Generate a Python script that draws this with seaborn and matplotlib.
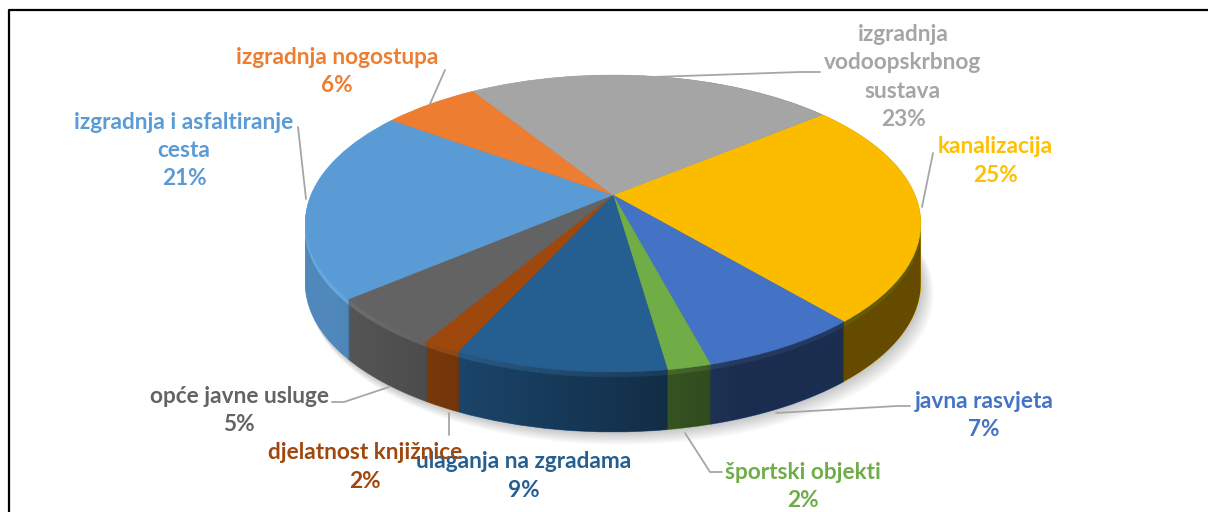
import numpy as np
import seaborn as sns
import matplotlib
matplotlib.use('Agg')
import matplotlib.pyplot as plt
from matplotlib.patches import Circle
from matplotlib.path import Path
from matplotlib.transforms import Transform

categories = ['kanalizacija', 'javna rasvjeta', 'športski objekti', 'ulaganja na zgradama',
              'djelatnost knjižnice', 'opće javne usluge', 'izgradnja i asfaltiranje\ncesta',
              'izgradnja nogostupa', 'izgradnja\nvodoopskrbnog\nsustava']
# slice sizes as measured on the picture, the printed labels are rounded
values = [24.5, 7.1, 1.9, 9.3, 1.7, 5.3, 20.9, 6.1, 23.2]
percents = [25, 7, 2, 9, 2, 5, 21, 6, 23]
colors = sns.color_palette(['#FBBC00', '#4472C4', '#70AD47', '#255E91', '#9E480E',
                            '#636363', '#5B9BD5', '#ED7D31', '#A5A5A5'])
text_colors = ['#FFC000', '#4472C4', '#70AD47', '#255E91', '#9E480E',
               '#636363', '#5B9BD5', '#ED7D31', '#A5A5A5']
label_pos = [(995, 161), (984, 415.5), (803, 486.5), (524, 476), (365, 467),
             (239, 410.5), (184, 150.5), (337, 71.5), (903, 77)]
leaders = [[(933, 153), (922, 207)],
           [(910, 406), (897, 406), (776, 413)],
           [(722, 472), (710, 472), (685, 433)],
           [],
           [(449, 413), (449, 435)],
           [(332, 402), (344, 402), (389, 387)],
           [(298, 127), (306, 199)],
           [(445, 70), (430, 104)],
           [(820, 72), (800, 72), (653, 77)]]

# perspective of the pie: unit circle -> pixels of the picture
APEX_X, APEX_Y = 613, 195
A, B, K = 302, 143, 0.192
DEPTH = 60


class Persp(Transform):
    input_dims = 2
    output_dims = 2
    is_separable = False

    def __init__(self, dy=0, dx=0):
        super().__init__()
        self.dy = dy
        self.dx = dx

    def transform_non_affine(self, values):
        v = np.asarray(values, dtype=float)
        w = 1 + K * v[:, 1]
        return np.column_stack([APEX_X + A * v[:, 0] / w + self.dx,
                                APEX_Y - B * v[:, 1] / w + self.dy])


sns.set_theme(style='white')
plt.rcParams['font.family'] = ['Lato', 'DejaVu Sans']

fig = plt.figure(figsize=(12.08, 5.12), dpi=100)
ax = fig.add_axes([0, 0, 1, 1])


def draw_pie(cols, dy, z):
    wedges, _ = ax.pie(values, colors=cols, startangle=39, counterclock=False,
                       wedgeprops={'linewidth': 0.4})
    for w, c in zip(wedges, cols):
        w.set_transform(Persp(dy) + ax.transData)
        w.set_edgecolor(c)
        w.set_zorder(z)


# soft shadow under the pie
for i in range(12):
    s = Circle((0, 0), 1 + 0.0012 * i, fc='black', ec='none', alpha=0.02, zorder=0.5)
    ax.add_patch(s)
    s.set_transform(Persp(DEPTH + i * 0.9, i * 0.8) + ax.transData)

# side of the pie
for dy in range(DEPTH, 5, -2):
    draw_pie(colors, dy, 1)
# bevel along the rim
lighter = [tuple(min(1, c * 1.15 + 0.05) for c in col) for col in colors]
for dy in [5, 4, 3, 2, 1]:
    draw_pie(lighter, dy, 1.5)

ax.set_aspect('auto')
ax.set_xlim(0, 1208)
ax.set_ylim(512, 0)
ax.axis('off')

# shading of the side, darker to the right
xs = np.linspace(300, 925, 300)
shade = np.clip(0.88 - (xs - 330) * 0.00118, 0.4, 0.88)
img = np.zeros((1, len(xs), 4))
img[0, :, 3] = 1 - shade
im = ax.imshow(img, extent=(300, 925, 520, 60), aspect='auto', zorder=2, interpolation='bilinear')
t0 = np.arcsin(-K)
low = np.linspace(t0, -np.pi - t0, 100)
high = np.linspace(-np.pi - t0, t0 - 2 * np.pi, 100)
pts_low = Persp(DEPTH).transform(np.column_stack([np.cos(low), np.sin(low)]))
pts_high = Persp(0).transform(np.column_stack([np.cos(high), np.sin(high)]))
im.set_clip_path(Path(np.vstack([pts_low, pts_high, pts_low[:1]])), transform=ax.transData)

# top face
draw_pie(colors, 0, 3)
ax.set_aspect('auto')
ax.set_xlim(0, 1208)
ax.set_ylim(512, 0)
ax.axis('off')

for line in leaders:
    if line:
        ax.plot([p[0] for p in line], [p[1] for p in line], color='#A6A6A6', lw=1.3, zorder=4)

for cat, val, col, (x, y) in zip(categories, percents, text_colors, label_pos):
    ax.text(x, y, f'{cat}\n{val}%', color=col, fontsize=16.3, fontweight='bold', ha='center',
            va='center', linespacing=1.44, zorder=5)

# frame of the original, only left and top are visible
ax.plot([8.5, 8.5, 1208], [512, 10, 10], color='black', lw=1.6, zorder=6, clip_on=False)

fig.savefig('out.png', dpi=100)
